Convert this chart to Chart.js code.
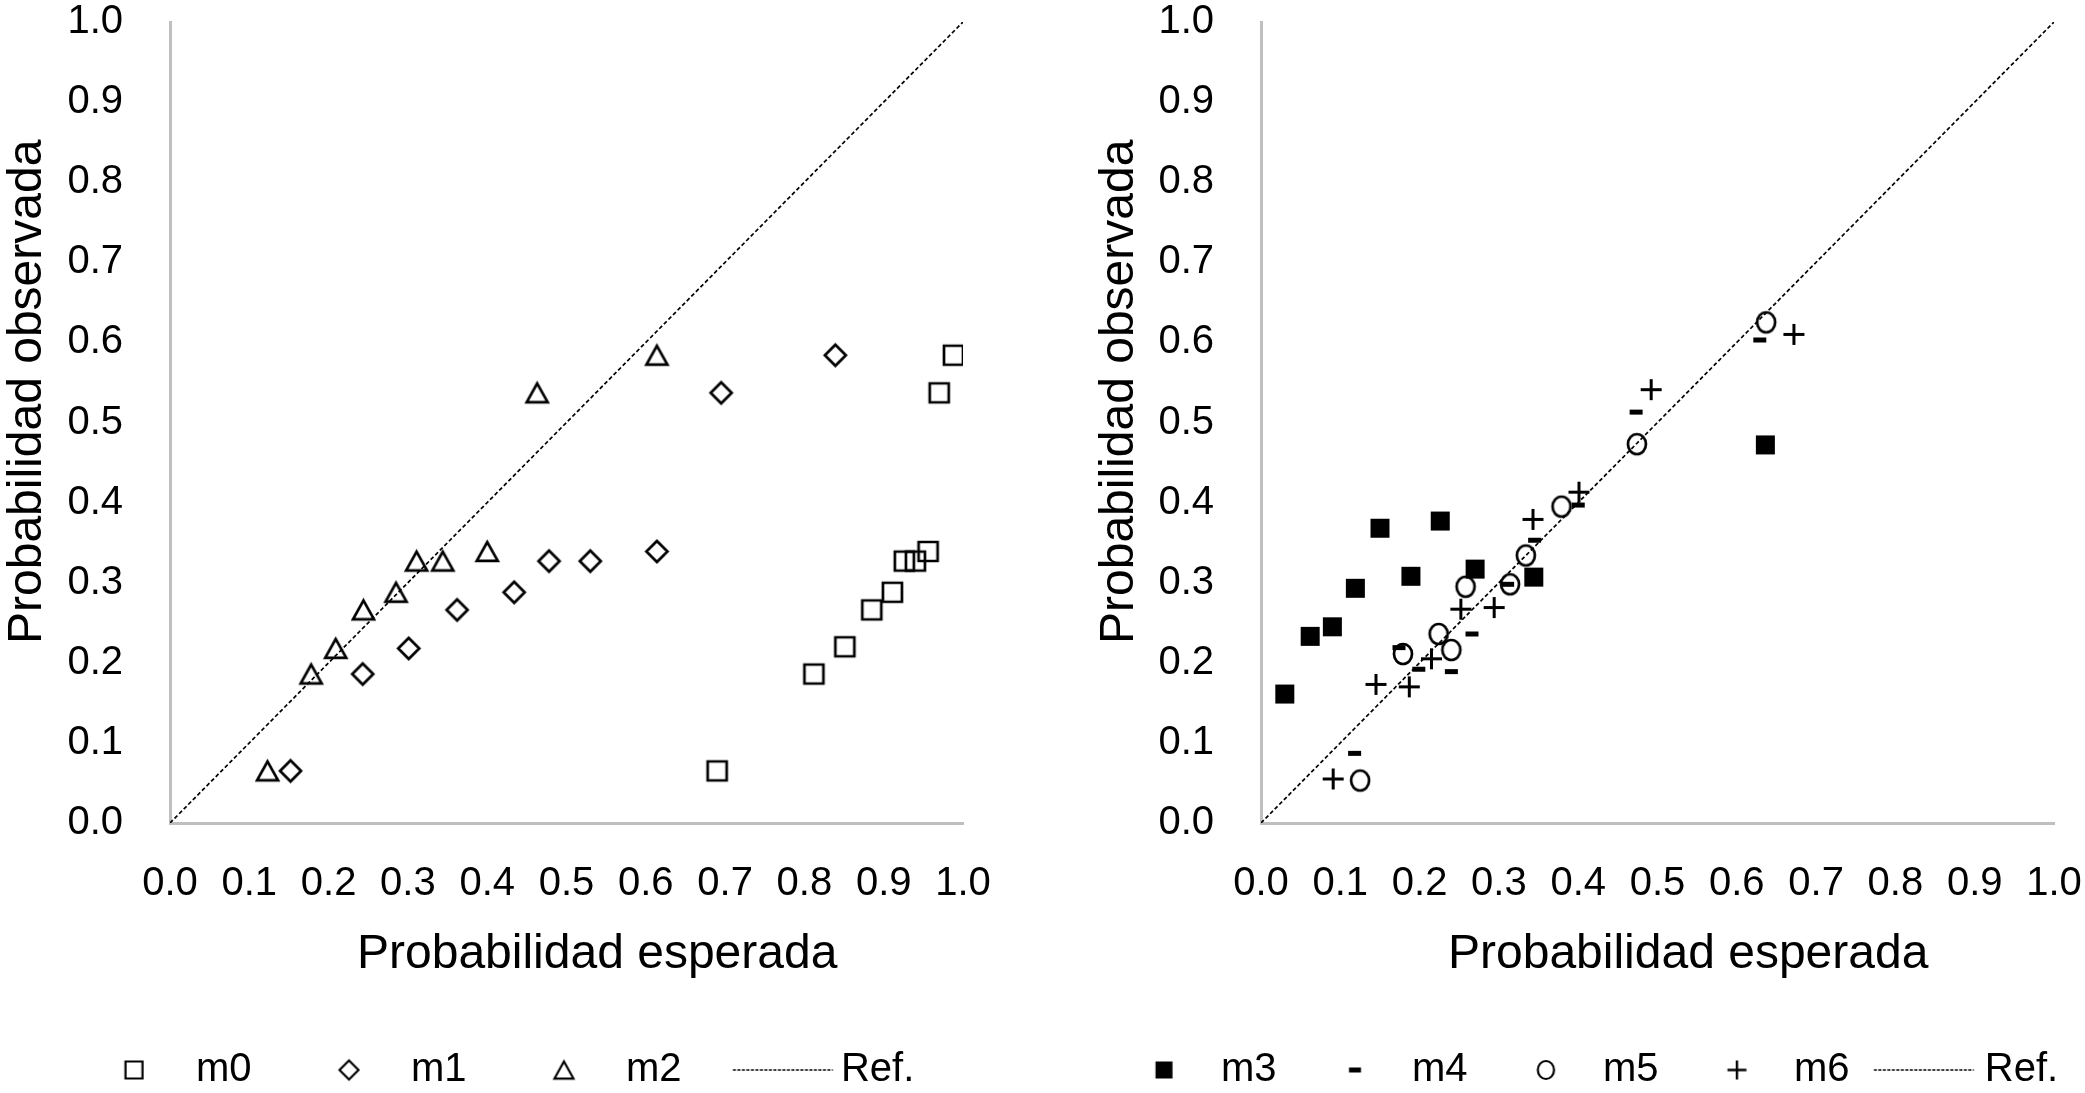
<!DOCTYPE html>
<html>
<head>
<meta charset="utf-8">
<script src="https://cdn.jsdelivr.net/npm/chart.js@4"></script>
<style>
  html, body { margin: 0; padding: 0; background: #fff; overflow: hidden; }
  body { width: 2085px; height: 1093px; position: relative; }
  .box { position: absolute; top: 0; width: 991px; height: 1093px; }
</style>
</head>
<body>
<div class="box" style="left:0px"><canvas id="left" width="991" height="1093"></canvas></div>
<div class="box" style="left:1091px"><canvas id="right" width="991" height="1093"></canvas></div>
<script>
// Tick values (both axes, both panels)
const xTicks = [0.0, 0.1, 0.2, 0.3, 0.4, 0.5, 0.6, 0.7, 0.8, 0.9, 1.0];
const yTicks = [0.0, 0.1, 0.2, 0.3, 0.4, 0.5, 0.6, 0.7, 0.8, 0.9, 1.0];

// Reference line (expected = observed)
const refX = [0, 1];
const refY = [0, 1];

// Left panel
const m0x = [0.690, 0.812, 0.851, 0.885, 0.911, 0.926, 0.940, 0.956, 0.970, 0.988];
const m0y = [0.065, 0.186, 0.220, 0.266, 0.288, 0.327, 0.327, 0.339, 0.537, 0.584];
const m1x = [0.152, 0.243, 0.301, 0.362, 0.434, 0.478, 0.530, 0.614, 0.695, 0.839];
const m1y = [0.065, 0.186, 0.218, 0.266, 0.288, 0.327, 0.327, 0.339, 0.537, 0.584];
const m2x = [0.123, 0.178, 0.209, 0.244, 0.285, 0.311, 0.344, 0.400, 0.463, 0.614];
const m2y = [0.065, 0.186, 0.218, 0.266, 0.288, 0.327, 0.327, 0.339, 0.537, 0.584];

// Right panel
const m3x = [0.030, 0.062, 0.090, 0.119, 0.150, 0.189, 0.226, 0.270, 0.344, 0.636];
const m3y = [0.161, 0.233, 0.245, 0.293, 0.368, 0.308, 0.377, 0.317, 0.307, 0.472];
const m4x = [0.118, 0.174, 0.199, 0.240, 0.266, 0.311, 0.345, 0.400, 0.473, 0.629];
const m4y = [0.087, 0.219, 0.192, 0.189, 0.236, 0.298, 0.353, 0.397, 0.513, 0.603];
const m5x = [0.125, 0.179, 0.224, 0.240, 0.258, 0.314, 0.334, 0.379, 0.474, 0.637];
const m5y = [0.053, 0.211, 0.236, 0.216, 0.295, 0.298, 0.334, 0.395, 0.473, 0.625];
const m6x = [0.091, 0.145, 0.187, 0.215, 0.252, 0.294, 0.343, 0.401, 0.492, 0.672];
const m6y = [0.055, 0.173, 0.170, 0.205, 0.267, 0.269, 0.379, 0.413, 0.541, 0.610];

const pts = (xs, ys) => xs.map((x, i) => ({ x: x, y: ys[i] }));

Chart.defaults.font.family = "'Liberation Sans', Arial, Helvetica, sans-serif";
Chart.defaults.color = '#000';

const H = 1093;
const PLOT_BOTTOM = 823;
const LEG_FONT = 40;
const LEG_PAD = 4;
const TITLE_FONT = 48;
// the original titles sit a little off the axis middle
const TITLE_SHIFT = '\u2002\u2002 ';

// marker pictures used as pointStyle; off shifts the marker sideways inside the picture
function marker(kind, s, lw, off) {
    off = off || 0;
    const c = document.createElement('canvas');
    const pad = Math.ceil(lw) + 2;
    const half = s / 2 + pad + Math.abs(off);
    c.width = Math.ceil(half * 2);
    c.height = s + pad * 2;
    const g = c.getContext('2d');
    const cx = c.width / 2 + off, cy = c.height / 2, h = s / 2;
    g.strokeStyle = '#000';
    g.fillStyle = '#000';
    g.lineWidth = lw;
    g.lineJoin = 'miter';
    g.beginPath();
    if (kind === 'square') {
        g.rect(cx - h, cy - h, s, s);
        g.stroke();
    } else if (kind === 'diamond') {
        g.moveTo(cx, cy - h); g.lineTo(cx + h, cy); g.lineTo(cx, cy + h); g.lineTo(cx - h, cy);
        g.closePath(); g.stroke();
    } else if (kind === 'triangle') {
        const th = s * 0.9;
        g.moveTo(cx, cy - th / 2); g.lineTo(cx + h, cy + th / 2); g.lineTo(cx - h, cy + th / 2);
        g.closePath(); g.stroke();
    } else if (kind === 'filled') {
        g.fillRect(cx - h, cy - h, s, s);
    } else if (kind === 'dash') {
        g.fillRect(cx - h, cy - 2.5, s, 5);
    } else if (kind === 'circle') {
        g.ellipse(cx, cy, h * 0.9, h, 0, 0, Math.PI * 2);
        g.stroke();
    } else if (kind === 'plus') {
        g.moveTo(cx - h, cy); g.lineTo(cx + h, cy);
        g.moveTo(cx, cy - h); g.lineTo(cx, cy + h);
        g.stroke();
    } else if (kind === 'ref') {
        g.lineWidth = 1.6;
        g.setLineDash([3, 1.5]);
        g.moveTo(cx - h, cy); g.lineTo(cx + h, cy);
        g.stroke();
    }
    return c;
}

const big = {
    m0: marker('square', 19, 2.7), m1: marker('diamond', 21, 2.7), m2: marker('triangle', 21, 2.7),
    m3: marker('filled', 19, 1), m4: marker('dash', 13, 1), m5: marker('circle', 20, 2.7), m6: marker('plus', 21, 3)
};
const legendKinds = {
    m0: ['square', 17, 2.2], m1: ['diamond', 19, 2.2], m2: ['triangle', 19, 2.2],
    m3: ['filled', 17, 1], m4: ['dash', 12, 1], m5: ['circle', 18, 2.2], m6: ['plus', 19, 2.4],
    'Ref.': ['ref', 100, 1.6]
};

function scatterSet(label, xs, ys) {
    return {
        label: label,
        data: pts(xs, ys),
        pointStyle: big[label],
        pointRadius: 10,
        pointHoverRadius: 10,
        borderColor: '#000',
        backgroundColor: '#000'
    };
}

function refSet() {
    return {
        label: 'Ref.',
        data: pts(refX, refY),
        showLine: true,
        borderColor: '#000',
        borderWidth: 1.7,
        borderDash: [4, 2.5],
        pointRadius: 0,
        pointHoverRadius: 0
    };
}

// moves the legend row to the wanted place after Chart.js has laid it out
const legendPlace = {
    id: 'legendPlace',
    afterLayout(chart, args, opts) {
        const lg = chart.legend;
        if (!lg || !lg.lineWidths) return;
        const start = (lg.left + LEG_PAD + lg.right - lg.lineWidths[0]) / 2;
        const first = start + opts.box + LEG_FONT / 2 - opts.gap;
        const dx = opts.firstX - first;
        const dy = (opts.textY - LEG_FONT / 2 - LEG_PAD) - lg.top;
        lg.left += dx; lg.right += dx;
        lg.top += dy; lg.bottom += dy;
    }
};

// step: marker to marker, gap: marker centre to text, refGap: line centre to text
function makeChart(id, sets, step, gap, refGap, firstX, yTitlePad) {
    const textW = 55.6;
    const box = step - LEG_FONT / 2 - textW - LEG_PAD;
    const legH = LEG_FONT + LEG_PAD + 10;
    const xAxisH = H - legH - PLOT_BOTTOM;
    return new Chart(document.getElementById(id), {
        type: 'scatter',
        data: { datasets: sets },
        plugins: [legendPlace],
        options: {
            responsive: false,
            animation: false,
            events: [],
            layout: { padding: { left: 0, right: 0, top: 22, bottom: 0 } },
            scales: {
                x: {
                    type: 'linear',
                    min: 0, max: 1,
                    afterBuildTicks: s => { s.ticks = xTicks.map(v => ({ value: v })); },
                    afterFit: s => { s.height = xAxisH; s.paddingLeft = 28; s.paddingRight = 28; },
                    grid: { display: false, drawTicks: false },
                    border: { display: true, color: '#bfbfbf', width: 3 },
                    ticks: {
                        padding: 41,
                        maxRotation: 0,
                        font: { size: 40, lineHeight: 1.0 },
                        callback: v => Number(v).toFixed(1)
                    },
                    title: {
                        display: true,
                        text: TITLE_SHIFT + 'Probabilidad esperada',
                        font: { size: TITLE_FONT, lineHeight: 1.2 },
                        padding: { top: 0, bottom: xAxisH - 128 - 28.8 - 4 }
                    }
                },
                y: {
                    type: 'linear',
                    min: 0, max: 1,
                    afterBuildTicks: s => { s.ticks = yTicks.map(v => ({ value: v })); },
                    afterFit: s => { s.width = 170; s.paddingTop = 20; s.paddingBottom = 20; },
                    grid: { display: false, drawTicks: false },
                    border: { display: true, color: '#bfbfbf', width: 3 },
                    ticks: {
                        padding: 47,
                        font: { size: 40, lineHeight: 1.0 },
                        callback: v => Number(v).toFixed(1)
                    },
                    title: {
                        display: true,
                        text: TITLE_SHIFT + 'Probabilidad observada',
                        font: { size: TITLE_FONT, lineHeight: 1.2 },
                        padding: { top: yTitlePad, bottom: 0 }
                    }
                }
            },
            plugins: {
                tooltip: { enabled: false },
                legendPlace: { box: box, gap: gap, firstX: firstX, textY: 1070 },
                legend: {
                    position: 'bottom',
                    labels: {
                        usePointStyle: true,
                        pointStyleWidth: box,
                        padding: LEG_PAD,
                        font: { size: LEG_FONT },
                        color: '#000',
                        generateLabels: chart => {
                            const items = Chart.defaults.plugins.legend.labels.generateLabels(chart);
                            items.forEach(it => {
                                const k = legendKinds[it.text];
                                const g = it.text === 'Ref.' ? refGap : gap;
                                it.pointStyle = marker(k[0], k[1], k[2], box / 2 + LEG_FONT / 2 - g);
                                it.lineDash = [];
                            });
                            return items;
                        }
                    }
                }
            }
        }
    });
}

makeChart('left', [
    scatterSet('m0', m0x, m0y),
    scatterSet('m1', m1x, m1y),
    scatterSet('m2', m2x, m2y),
    refSet()
], 215, 62, 58, 134, -1);

makeChart('right', [
    scatterSet('m3', m3x, m3y),
    scatterSet('m4', m4x, m4y),
    scatterSet('m5', m5x, m5y),
    scatterSet('m6', m6x, m6y),
    refSet()
], 191, 57, 61, 73, 0);
</script>
</body>
</html>
